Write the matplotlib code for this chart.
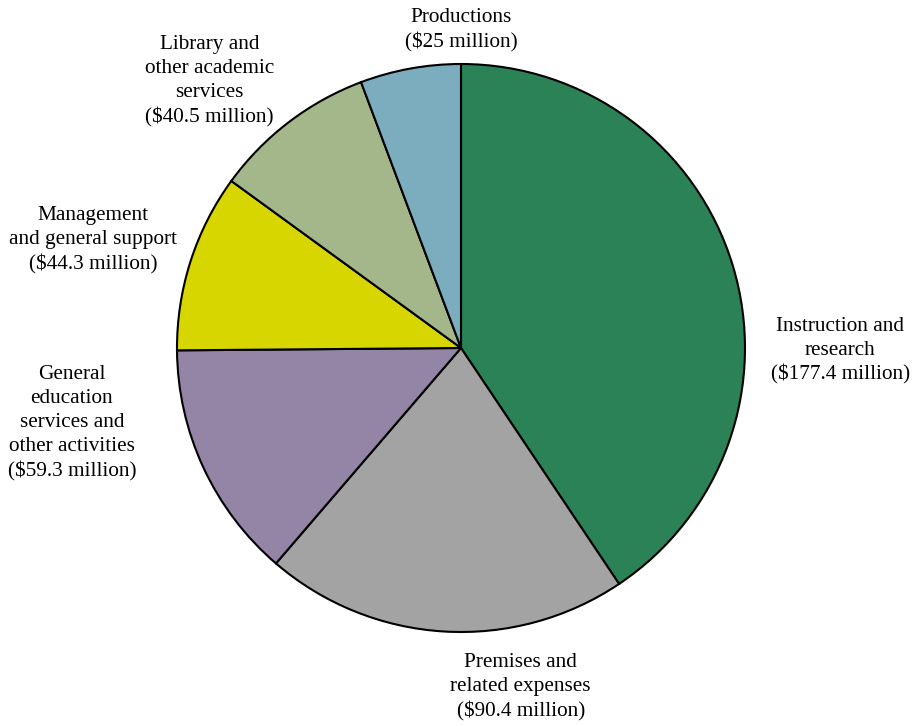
import matplotlib
matplotlib.use("Agg")
import matplotlib.pyplot as plt

plt.rcParams['font.family'] = ['Liberation Serif', 'DejaVu Serif']

# spending categories, clockwise from the top
labels = ["Instruction and\nresearch\n($177.4 million)",
          "Premises and\nrelated expenses\n($90.4 million)",
          "General\neducation\nservices and\nother activities\n($59.3 million)",
          "Management\nand general support\n($44.3 million)",
          "Library and\nother academic\nservices\n($40.5 million)",
          "Productions\n($25 million)"]
values = [177.4, 90.4, 59.3, 44.3, 40.5, 25]
colors = ["#2b8256", "#a3a3a3", "#9485a6", "#d8d600", "#a4b78a", "#7badbe"]

# where each label block sits (data units, pie radius = 1)
label_xy = [(1.335, -0.01), (0.21, -1.195), (-1.37, -0.265),
            (-1.295, 0.38), (-0.885, 0.94), (0.0, 1.12)]

fig = plt.figure(figsize=(9.16, 7.26), dpi=100)
ax = fig.add_axes([0, 0, 1, 1])

ax.pie(values, colors=colors, startangle=90, counterclock=False, radius=1,
       wedgeprops=dict(edgecolor="black", linewidth=1.5))

for lab, (x, y) in zip(labels, label_xy):
    ax.text(x, y, lab, ha="center", va="center", multialignment="center",
            fontsize=15.3, linespacing=1.35)

ax.set_aspect("equal")
ax.set_xlim(-461 / 284, (916 - 461) / 284)
ax.set_ylim(-(726 - 348) / 284, 348 / 284)
ax.axis("off")

fig.savefig("out.png", dpi=100)
